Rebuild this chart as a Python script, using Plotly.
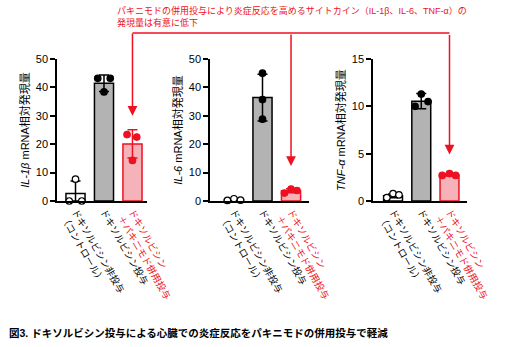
import plotly.graph_objects as go

# ---- data ----
groups = ["ドキソルビシン非投与<br>（コントロール）",
          "ドキソルビシン投与",
          "ドキソルビシン<br>＋パキニモド併用投与"]

il1b_points = [[0, 7.7, 0], [43.2, 38.4, 43.2], [23.4, 14.3, 22.5]]
il1b_mean = [2.6, 41.5, 20.1]
il1b_sd = [4.4, 2.9, 5.0]

il6_points = [[0.2, 0.8, 0.3], [45.0, 35.7, 28.8], [2.8, 4.2, 3.7]]
il6_mean = [0.5, 36.4, 3.6]
il6_sd = [0.4, 8.2, 0.7]

tnfa_points = [[0.35, 0.78, 0.64], [10.0, 11.3, 10.5], [2.7, 2.9, 2.7]]
tnfa_mean = [0.55, 10.55, 2.75]
tnfa_sd = [0.2, 0.8, 0.12]

y_titles = ["<i>IL-1β</i> mRNA相対発現量", "<i>IL-6</i> mRNA相対発現量", "<i>TNF-α</i> mRNA相対発現量"]
y_ticks = [[0, 10, 20, 30, 40, 50], [0, 10, 20, 30, 40, 50], [0, 5, 10, 15]]
y_ranges = [[0, 50], [0, 50], [0, 15]]

title_text = "パキニモドの併用投与により炎症反応を高めるサイトカイン（IL-1β、IL-6、TNF-α）の<br>発現量は有意に低下"
caption_text = "<b>図3. ドキソルビシン投与による心臓での炎症反応をパキニモドの併用投与で軽減</b>"

# ---- styles ----
RED = "#ee1122"
fills = ["#ffffff", "#b3b3b3", "#f5b3b9"]
edges = ["#000000", "#000000", RED]
pt_fill = ["#ffffff", "#000000", RED]
pt_edge = ["#000000", "#000000", RED]
jitter = [
    [[-0.22, 0, 0.22], [-0.22, 0, 0.22], [-0.19, 0, 0.15]],
    [[-0.23, 0, 0.23], [0, 0, 0], [-0.23, 0, 0.21]],
    [[-0.22, 0, 0.21], [-0.22, 0, 0.24], [-0.26, 0, 0.22]],
]
W, H = 512, 347
x_dom_px = [(57, 147), (210, 309), (373, 467)]
x_ranges = [[-0.65, 2.51], [-0.84, 2.63], [-0.71, 2.62]]
y_dom = [1 - 201 / H, 1 - 59 / H]

panels = [(il1b_points, il1b_mean, il1b_sd), (il6_points, il6_mean, il6_sd), (tnfa_points, tnfa_mean, tnfa_sd)]

fig = go.Figure()
for p, (pts, means, sds) in enumerate(panels):
    xa = "x" if p == 0 else f"x{p+1}"
    ya = "y" if p == 0 else f"y{p+1}"
    for g in range(3):
        fig.add_trace(go.Bar(
            x=[g], y=[means[g]], width=0.67, xaxis=xa, yaxis=ya,
            marker=dict(color=fills[g], line=dict(color=edges[g], width=1.5)),
            error_y=dict(type="data", array=[sds[g]], color=edges[g], thickness=1.5, width=5),
            showlegend=False, hoverinfo="skip"))
    for g in range(3):
        fig.add_trace(go.Scatter(
            x=[g + o for o in jitter[p][g]], y=pts[g], mode="markers",
            xaxis=xa, yaxis=ya, cliponaxis=False,
            marker=dict(size=6.5, color=pt_fill[g], line=dict(color=pt_edge[g], width=1.2)),
            showlegend=False, hoverinfo="skip"))

ticktext = [groups[0], groups[1],
            "<span style='color:%s'>ドキソルビシン</span><br><span style='color:%s'>＋パキニモド併用投与</span>" % (RED, RED)]

layout = dict(
    width=W, height=H, margin=dict(l=0, r=0, t=0, b=0, autoexpand=False),
    paper_bgcolor="white", plot_bgcolor="white",
    barmode="overlay",
    font=dict(family="Liberation Sans, Arial, Noto Sans CJK JP", color="black"),
)
for p in range(3):
    xk = "xaxis" if p == 0 else f"xaxis{p+1}"
    yk = "yaxis" if p == 0 else f"yaxis{p+1}"
    ya = "y" if p == 0 else f"y{p+1}"
    xa = "x" if p == 0 else f"x{p+1}"
    layout[xk] = dict(domain=[x_dom_px[p][0] / W, x_dom_px[p][1] / W], range=x_ranges[p],
                      anchor=ya, tickvals=[0, 1, 2], ticktext=ticktext, tickangle=60,
                      showline=True, linecolor="black", linewidth=1.5, ticks="",
                      showgrid=False, zeroline=False, automargin=False,
                      tickfont=dict(size=9.5, family="Noto Sans CJK JP", color="black"))
    layout[yk] = dict(domain=y_dom, range=y_ranges[p], anchor=xa, tickvals=y_ticks[p],
                      showline=True, linecolor="black", linewidth=1.5, automargin=False,
                      ticks="outside", ticklen=5, tickwidth=1.5, tickcolor="black",
                      showgrid=False, zeroline=False, tickfont=dict(size=11),
                      title=dict(text=y_titles[p], font=dict(size=11), standoff=4))
fig.update_layout(**layout)

# title annotation
fig.add_annotation(x=115 / W, y=1 - 3 / H, xref="paper", yref="paper", xanchor="left", yanchor="top",
                   align="left", showarrow=False, text=title_text,
                   font=dict(size=9, color=RED, family="Liberation Sans, Noto Sans CJK JP"))
# caption
fig.add_annotation(x=7 / W, y=1 - 333 / H, xref="paper", yref="paper", xanchor="left", yanchor="middle",
                   showarrow=False, text=caption_text,
                   font=dict(size=10.5, color="black", family="Liberation Sans, Noto Sans CJK JP"))

# connector
line_y = 33
fig.add_shape(type="line", xref="paper", yref="paper", x0=132.5 / W, x1=449.5 / W,
              y0=1 - line_y / H, y1=1 - line_y / H, line=dict(color=RED, width=1.5))
arrow_tips = [(2, 30, 116.7), (2, 12.3, 166), (2, 4.9, 154)]
for p, (ax_x, ax_y, tip_px) in enumerate(arrow_tips):
    xa = "x" if p == 0 else f"x{p+1}"
    ya = "y" if p == 0 else f"y{p+1}"
    fig.add_annotation(x=ax_x, y=ax_y, xref=xa, yref=ya, ax=0, ay=-(tip_px - line_y),
                       showarrow=True, arrowhead=2, arrowsize=1.3, arrowwidth=1.5,
                       arrowcolor=RED, text="")

fig.write_html("out.html")
